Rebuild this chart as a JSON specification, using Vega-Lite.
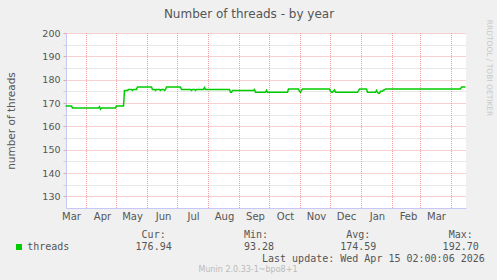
{
  "$schema": "https://vega.github.io/schema/vega-lite/v6.json",
  "width": 400,
  "height": 175,
  "autosize": {"type": "none"},
  "padding": {"left": 66, "top": 33, "right": 31, "bottom": 72},
  "background": "#f0f0f0",
  "title": {
    "text": "Munin 2.0.33-1~bpo8+1",
    "orient": "bottom",
    "anchor": "middle",
    "frame": "group",
    "dx": -18,
    "offset": 3,
    "font": "DejaVu Sans",
    "fontSize": 8,
    "fontWeight": "normal",
    "color": "#bbbbbb"
  },
  "config": {
    "view": {"fill": "white", "stroke": null}
  },
  "resolve": {"axis": {"x": "independent", "y": "independent"}},
  "layer": [
    {
      "data": {"values": [
        {"date": "2025-04-01"}, {"date": "2025-05-01"}, {"date": "2025-06-01"}, {"date": "2025-07-01"},
        {"date": "2025-08-01"}, {"date": "2025-09-01"}, {"date": "2025-10-01"}, {"date": "2025-11-01"},
        {"date": "2025-12-01"}, {"date": "2026-01-01"}, {"date": "2026-02-01"}, {"date": "2026-03-01"},
        {"date": "2026-04-01"}
      ]},
      "mark": {"type": "rule", "color": "#f0a0a0", "strokeDash": [1, 1], "strokeWidth": 1},
      "encoding": {
        "x": {
          "field": "date",
          "type": "temporal",
          "scale": {
            "type": "utc",
            "domain": [
              {"year": 2025, "month": 3, "date": 11, "hours": 12, "utc": true},
              {"year": 2026, "month": 4, "date": 15, "hours": 12, "utc": true}
            ]
          },
          "axis": {
            "orient": "bottom",
            "values": [
              {"year": 2025, "month": 3, "date": 16, "hours": 12, "utc": true},
              {"year": 2025, "month": 4, "date": 16, "hours": 12, "utc": true},
              {"year": 2025, "month": 5, "date": 16, "hours": 12, "utc": true},
              {"year": 2025, "month": 6, "date": 16, "hours": 12, "utc": true},
              {"year": 2025, "month": 7, "date": 16, "hours": 12, "utc": true},
              {"year": 2025, "month": 8, "date": 16, "hours": 12, "utc": true},
              {"year": 2025, "month": 9, "date": 16, "hours": 12, "utc": true},
              {"year": 2025, "month": 10, "date": 16, "hours": 12, "utc": true},
              {"year": 2025, "month": 11, "date": 16, "hours": 12, "utc": true},
              {"year": 2025, "month": 12, "date": 16, "hours": 12, "utc": true},
              {"year": 2026, "month": 1, "date": 16, "hours": 12, "utc": true},
              {"year": 2026, "month": 2, "date": 16, "hours": 12, "utc": true},
              {"year": 2026, "month": 3, "date": 16, "hours": 12, "utc": true}
            ],
            "format": "%b",
            "ticks": false,
            "grid": false,
            "labelFlush": false,
            "labelOverlap": false,
            "domainColor": "#c8c8f8",
            "labelFont": "DejaVu Sans",
            "labelFontSize": 10,
            "labelColor": "#555555",
            "labelPadding": 3,
            "title": [
              "\u200b\u00a0\u00a0\u00a0\u00a0\u00a0\u00a0\u00a0\u00a0\u00a0\u00a0\u00a0\u00a0\u00a0\u00a0\u00a0\u00a0\u00a0\u00a0\u00a0Cur:\u00a0\u00a0\u00a0\u00a0\u00a0\u00a0\u00a0\u00a0\u00a0\u00a0\u00a0\u00a0\u00a0Min:\u00a0\u00a0\u00a0\u00a0\u00a0\u00a0\u00a0\u00a0\u00a0\u00a0\u00a0\u00a0\u00a0Avg:\u00a0\u00a0\u00a0\u00a0\u00a0\u00a0\u00a0\u00a0\u00a0\u00a0\u00a0\u00a0\u00a0Max:",
              "threads\u00a0\u00a0\u00a0\u00a0\u00a0\u00a0\u00a0\u00a0\u00a0\u00a0\u00a0176.94\u00a0\u00a0\u00a0\u00a0\u00a0\u00a0\u00a0\u00a0\u00a0\u00a0\u00a0\u00a093.28\u00a0\u00a0\u00a0\u00a0\u00a0\u00a0\u00a0\u00a0\u00a0\u00a0\u00a0174.59\u00a0\u00a0\u00a0\u00a0\u00a0\u00a0\u00a0\u00a0\u00a0\u00a0\u00a0192.70",
              "\u200b\u00a0\u00a0\u00a0\u00a0\u00a0\u00a0\u00a0\u00a0\u00a0\u00a0\u00a0\u00a0\u00a0\u00a0\u00a0\u00a0\u00a0\u00a0\u00a0\u00a0\u00a0\u00a0\u00a0\u00a0\u00a0\u00a0\u00a0\u00a0\u00a0\u00a0\u00a0\u00a0\u00a0\u00a0\u00a0\u00a0\u00a0\u00a0\u00a0Last\u00a0update:\u00a0Wed\u00a0Apr\u00a015\u00a002:00:06\u00a02026"
            ],
            "titleFont": "DejaVu Sans Mono",
            "titleFontSize": 10,
            "titleFontWeight": "normal",
            "titleColor": "#555555",
            "titleAlign": "left",
            "titleBaseline": "top",
            "titleX": -39.3,
            "titleY": 21,
            "titleLineHeight": 12
          }
        }
      }
    },
    {
      "data": {"values": [
        {"date": "2025-03-11", "value": 168.7},
        {"date": "2025-03-17", "value": 168.7},
        {"date": "2025-03-18", "value": 167.9},
        {"date": "2025-04-13", "value": 167.9},
        {"date": "2025-04-14", "value": 168.4},
        {"date": "2025-04-15", "value": 167.3},
        {"date": "2025-04-16", "value": 167.9},
        {"date": "2025-04-30", "value": 167.9},
        {"date": "2025-05-01", "value": 168.7},
        {"date": "2025-05-08", "value": 168.7},
        {"date": "2025-05-09", "value": 175.4},
        {"date": "2025-05-12", "value": 175.4},
        {"date": "2025-05-13", "value": 175.8},
        {"date": "2025-05-16", "value": 175.8},
        {"date": "2025-05-17", "value": 175.4},
        {"date": "2025-05-18", "value": 175.8},
        {"date": "2025-05-21", "value": 175.8},
        {"date": "2025-05-22", "value": 176.9},
        {"date": "2025-06-05", "value": 176.9},
        {"date": "2025-06-06", "value": 175.8},
        {"date": "2025-06-08", "value": 175.8},
        {"date": "2025-06-09", "value": 175.4},
        {"date": "2025-06-10", "value": 175.8},
        {"date": "2025-06-13", "value": 175.8},
        {"date": "2025-06-14", "value": 175.4},
        {"date": "2025-06-15", "value": 175.8},
        {"date": "2025-06-17", "value": 175.8},
        {"date": "2025-06-18", "value": 175.4},
        {"date": "2025-06-19", "value": 175.8},
        {"date": "2025-06-20", "value": 176.9},
        {"date": "2025-07-04", "value": 176.9},
        {"date": "2025-07-05", "value": 175.8},
        {"date": "2025-07-14", "value": 175.8},
        {"date": "2025-07-15", "value": 175.4},
        {"date": "2025-07-16", "value": 175.8},
        {"date": "2025-07-18", "value": 175.8},
        {"date": "2025-07-19", "value": 175.4},
        {"date": "2025-07-20", "value": 175.8},
        {"date": "2025-07-27", "value": 175.8},
        {"date": "2025-07-28", "value": 176.6},
        {"date": "2025-07-29", "value": 175.8},
        {"date": "2025-08-22", "value": 175.8},
        {"date": "2025-08-23", "value": 174.6},
        {"date": "2025-08-24", "value": 174.6},
        {"date": "2025-08-25", "value": 175.4},
        {"date": "2025-09-15", "value": 175.4},
        {"date": "2025-09-16", "value": 175.8},
        {"date": "2025-09-17", "value": 174.6},
        {"date": "2025-09-27", "value": 174.6},
        {"date": "2025-09-28", "value": 175.4},
        {"date": "2025-09-29", "value": 174.6},
        {"date": "2025-10-19", "value": 174.6},
        {"date": "2025-10-20", "value": 176.0},
        {"date": "2025-10-30", "value": 176.0},
        {"date": "2025-10-31", "value": 175.0},
        {"date": "2025-11-01", "value": 174.6},
        {"date": "2025-11-02", "value": 175.4},
        {"date": "2025-11-03", "value": 176.0},
        {"date": "2025-11-30", "value": 176.0},
        {"date": "2025-12-01", "value": 175.0},
        {"date": "2025-12-02", "value": 174.6},
        {"date": "2025-12-03", "value": 174.6},
        {"date": "2025-12-05", "value": 175.6},
        {"date": "2025-12-06", "value": 174.6},
        {"date": "2025-12-28", "value": 174.6},
        {"date": "2025-12-30", "value": 176.0},
        {"date": "2026-01-06", "value": 176.0},
        {"date": "2026-01-07", "value": 174.6},
        {"date": "2026-01-15", "value": 174.6},
        {"date": "2026-01-16", "value": 175.4},
        {"date": "2026-01-17", "value": 174.6},
        {"date": "2026-01-18", "value": 174.2},
        {"date": "2026-01-19", "value": 174.2},
        {"date": "2026-01-20", "value": 175.0},
        {"date": "2026-01-22", "value": 175.0},
        {"date": "2026-01-23", "value": 175.6},
        {"date": "2026-01-24", "value": 175.6},
        {"date": "2026-01-25", "value": 176.0},
        {"date": "2026-04-10", "value": 176.0},
        {"date": "2026-04-11", "value": 176.9},
        {"date": "2026-04-15", "value": 176.9}
      ]},
      "mark": {"type": "line", "color": "#00cc00", "strokeWidth": 1.5},
      "encoding": {
        "x": {"field": "date", "type": "temporal", "axis": null},
        "y": {
          "field": "value",
          "type": "quantitative",
          "scale": {"domain": [125, 200], "nice": false, "zero": false},
          "axis": {
            "orient": "left",
            "values": [130, 135, 140, 145, 150, 155, 160, 165, 170, 175, 180, 185, 190, 195, 200],
            "labelExpr": "datum.value % 10 === 0 ? datum.label : ''",
            "grid": true,
            "gridColor": {"condition": {"test": "datum.value % 10 === 0", "value": "#f0a0a0"}, "value": "#d0d0d0"},
            "gridDash": [1, 1],
            "tickColor": {"condition": {"test": "datum.value % 10 === 0", "value": "#f0a0a0"}, "value": "#d0d0d0"},
            "tickSize": 3,
            "domainColor": "#c8c8f8",
            "labelFont": "DejaVu Sans",
            "labelFontSize": 9.5,
            "labelColor": "#555555",
            "labelPadding": 3,
            "title": "number of threads",
            "titleFont": "DejaVu Sans",
            "titleFontSize": 10.5,
            "titleFontWeight": "normal",
            "titleColor": "#555555",
            "titleAngle": -90,
            "titleBaseline": "middle",
            "titleX": -54.3,
            "titleY": 87.5
          }
        },
        "color": {
          "datum": "threads",
          "scale": {"domain": ["threads"], "range": ["#00cc00"]},
          "legend": {
            "orient": "none",
            "legendX": -52,
            "legendY": 209,
            "title": null,
            "padding": 0,
            "symbolType": "square",
            "symbolSize": 36,
            "symbolFillColor": "#00cc00",
            "symbolStrokeColor": "#00cc00",
            "symbolStrokeWidth": 0,
            "labelExpr": "''"
          }
        }
      }
    },
    {
      "data": {"values": [{"date": "2025-10-01", "value": 160}]},
      "mark": {"type": "point", "opacity": 0},
      "encoding": {
        "x": {
          "field": "date",
          "type": "temporal",
          "axis": {
            "orient": "top",
            "title": "Number of threads - by year",
            "labels": false,
            "ticks": false,
            "domain": false,
            "grid": false,
            "titleFont": "DejaVu Sans",
            "titleFontSize": 12,
            "titleFontWeight": "normal",
            "titleColor": "#555555",
            "titleX": 182.5,
            "titleAlign": "center",
            "titleBaseline": "middle",
            "titleY": -20
          }
        },
        "y": {
          "field": "value",
          "type": "quantitative",
          "axis": {
            "orient": "right",
            "title": "RRDTOOL / TOBI OETIKER",
            "labels": false,
            "ticks": false,
            "domain": false,
            "grid": false,
            "titleAngle": 90,
            "titleFont": "DejaVu Sans",
            "titleFontSize": 7.5,
            "titleFontWeight": "normal",
            "titleColor": "#c8c8c8",
            "titleAlign": "center",
            "titleBaseline": "middle",
            "titleX": 22.7,
            "titleY": 34.5
          }
        }
      }
    }
  ]
}
